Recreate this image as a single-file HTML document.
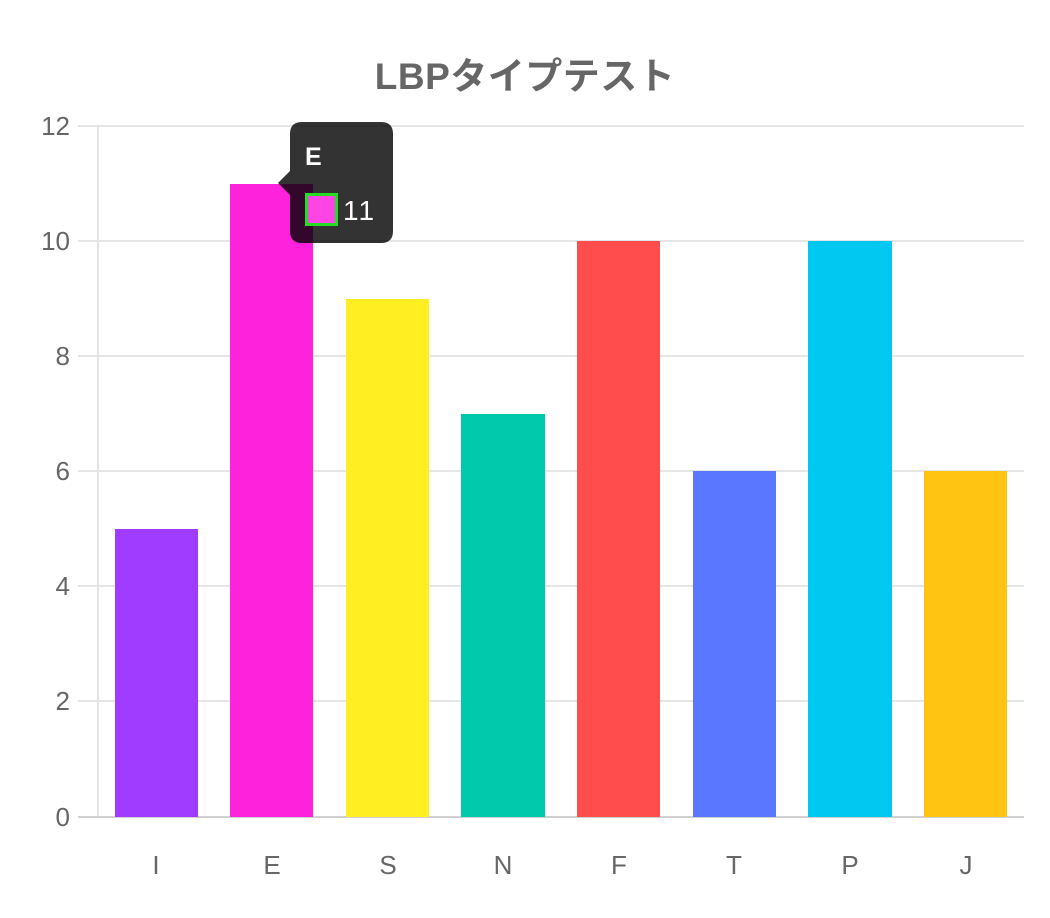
<!DOCTYPE html>
<html><head><meta charset="utf-8"><style>
html,body{margin:0;padding:0;background:#fff;}
svg{display:block;font-family:"Liberation Sans","Noto Sans CJK JP",sans-serif;}
</style></head><body>
<svg width="1050" height="918" viewBox="0 0 1050 918" xmlns="http://www.w3.org/2000/svg">
<text x="525" y="89" text-anchor="middle" font-size="37" font-weight="bold" fill="#666" letter-spacing="0.5">LBPタイプテスト</text>
<g stroke="#e5e5e5" stroke-width="2">
<line x1="78" y1="126" x2="1024" y2="126"/>
<line x1="78" y1="241" x2="1024" y2="241"/>
<line x1="78" y1="356" x2="1024" y2="356"/>
<line x1="78" y1="471" x2="1024" y2="471"/>
<line x1="78" y1="586" x2="1024" y2="586"/>
<line x1="78" y1="701" x2="1024" y2="701"/>
<line x1="98" y1="126" x2="98" y2="817"/>
</g>
<line x1="78" y1="817" x2="1024" y2="817" stroke="#d0d0d0" stroke-width="2"/>
<g font-size="26" fill="#666" text-anchor="end">
<text x="70" y="135">12</text><text x="70" y="250">10</text><text x="70" y="365">8</text>
<text x="70" y="480">6</text><text x="70" y="595">4</text><text x="70" y="710">2</text><text x="70" y="826">0</text>
</g>
<rect x="115" y="529" width="83" height="288" fill="#a03cff"/>
<rect x="230" y="184" width="83" height="633" fill="#ff22dd"/>
<rect x="346" y="299" width="83" height="518" fill="#ffee22"/>
<rect x="461" y="414" width="84" height="403" fill="#00c9ac"/>
<rect x="577" y="241" width="83" height="576" fill="#ff4c4c"/>
<rect x="693" y="471" width="83" height="346" fill="#5a77ff"/>
<rect x="808" y="241" width="84" height="576" fill="#00c8f0"/>
<rect x="924" y="471" width="83" height="346" fill="#ffc312"/>
<g font-size="26" fill="#666" text-anchor="middle">
<text x="156" y="874">I</text><text x="272" y="874">E</text><text x="388" y="874">S</text>
<text x="503" y="874">N</text><text x="619" y="874">F</text><text x="734" y="874">T</text>
<text x="850" y="874">P</text><text x="966" y="874">J</text>
</g>
<path d="M302 122 H381 Q393 122 393 134 V231 Q393 243 381 243 H302 Q290 243 290 231 V195 L278 183 L290 171 V134 Q290 122 302 122 Z" fill="rgba(0,0,0,0.8)"/>
<text x="305" y="165" font-size="25" font-weight="bold" fill="#fff">E</text>
<rect x="306.5" y="194.5" width="30" height="30" fill="#ff44e6" stroke="#22dd22" stroke-width="3"/>
<text x="343" y="220" font-size="28" fill="#fff" letter-spacing="2">11</text>
</svg>
</body></html>
